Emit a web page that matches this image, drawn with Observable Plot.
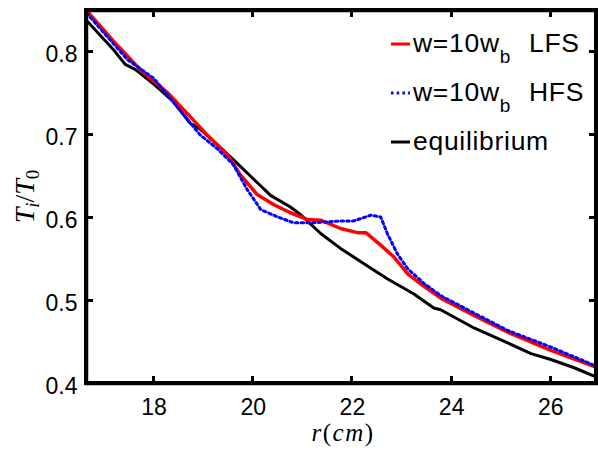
<!DOCTYPE html>
<html>
<head>
<meta charset="utf-8">
<script src="https://cdn.jsdelivr.net/npm/d3@7"></script>
<script src="https://cdn.jsdelivr.net/npm/@observablehq/plot@0.6"></script>
<style>
  body { margin: 0; background: #fff; }
  #wrap { position: relative; width: 598px; height: 455px; overflow: hidden; }
  #chart, #over, #deco { position: absolute; left: 0; top: 0; }
  #over { pointer-events: none; z-index: 2; }
  #deco { width: 598px; height: 455px; pointer-events: none; z-index: 3; }
  .edge, .tk { position: absolute; background: #000; }
</style>
</head>
<body>
<div id="wrap"><div id="chart"></div><svg id="over" width="598" height="455"></svg><div id="deco"></div></div>
<script>
// ---- data ----
const rEq = [16.64, 17.18, 17.42, 17.62, 18.02, 18.39, 18.73, 18.93, 19.28, 19.6, 20.0, 20.35, 20.75, 20.95, 21.36, 21.76, 22.17, 22.71, 23.24, 23.64, 23.78, 24.45, 25.13, 25.6, 26.0, 26.47, 26.95];
const tEq = [0.838, 0.803, 0.785, 0.779, 0.760, 0.740, 0.714, 0.707, 0.688, 0.670, 0.647, 0.627, 0.613, 0.604, 0.581, 0.563, 0.547, 0.526, 0.508, 0.491, 0.489, 0.467, 0.449, 0.436, 0.429, 0.419, 0.407];

const rLfs = [16.64, 17.26, 17.72, 18.27, 18.73, 19.07, 19.48, 19.74, 20.08, 20.41, 20.75, 21.09, 21.36, 21.76, 22.1, 22.27, 22.57, 22.83, 23.12, 23.38, 23.78, 24.45, 25.13, 26.0, 26.95];
const tLfs = [0.850, 0.808, 0.779, 0.751, 0.722, 0.700, 0.676, 0.652, 0.628, 0.616, 0.606, 0.598, 0.597, 0.587, 0.582, 0.582, 0.567, 0.553, 0.532, 0.520, 0.503, 0.482, 0.462, 0.440, 0.419];

const rHfs = [16.64, 17.46, 18.0, 18.93, 19.28, 19.6, 19.88, 20.15, 20.49, 20.81, 21.22, 21.76, 22.02, 22.37, 22.57, 22.71, 22.91, 23.12, 23.44, 23.78, 24.45, 25.13, 26.0, 26.95];
const tHfs = [0.847, 0.791, 0.768, 0.700, 0.683, 0.664, 0.634, 0.610, 0.601, 0.594, 0.594, 0.596, 0.596, 0.603, 0.601, 0.580, 0.556, 0.538, 0.521, 0.506, 0.485, 0.464, 0.444, 0.420];

const xTicks = [18, 20, 22, 24, 26];
const yTicks = [0.4, 0.5, 0.6, 0.7, 0.8];

const eq = rEq.map((r, i) => ({r, t: tEq[i]}));
const lfs = rLfs.map((r, i) => ({r, t: tLfs[i]}));
const hfs = rHfs.map((r, i) => ({r, t: tHfs[i]}));

const W = 598, H = 455, ML = 86, MR = 2, MT = 10, MB = 72;
const plotW = W - ML - MR, plotH = H - MT - MB;
const tickLen = 7;

const chart = Plot.plot({
  width: W, height: H,
  marginLeft: ML, marginRight: MR, marginTop: MT, marginBottom: MB,
  style: { fontFamily: "'Liberation Sans', Arial, Helvetica, sans-serif", background: "#fff", color: "#000" },
  x: { domain: [16.64, 26.92] },
  y: { domain: [0.4, 0.85] },
  marks: [
    Plot.line(eq, { x: "r", y: "t", stroke: "#000", strokeWidth: 3, clip: true }),
    Plot.line(lfs, { x: "r", y: "t", stroke: "#ff0000", strokeWidth: 3.5, clip: true }),
    Plot.line(hfs, { x: "r", y: "t", stroke: "#0000ff", strokeWidth: 3, strokeDasharray: "2.5,3.2", clip: true }),
    Plot.frame({ stroke: "#000", strokeWidth: 3.5 }),
    Plot.axisX(xTicks, { tickSize: 0, tickPadding: 15, fontSize: 23, label: null }),
    Plot.axisY(yTicks, { tickSize: 0, tickPadding: 9, fontSize: 23, label: null, dy: 3, tickFormat: d3.format(".1f") })
  ]
});

document.getElementById("chart").appendChild(chart);

const xs = chart.scale("x"), ys = chart.scale("y");
const x0 = ML, x1 = W - MR, y0 = MT, y1 = H - MB;

// ---- frame and inward ticks as plain boxes, placed through Plot's scales ----
const deco = d3.select("#deco");
const fw = 3.5;
function box(l, t, w, h) {
  deco.append("div").attr("class", "edge")
    .style("left", l + "px").style("top", t + "px")
    .style("width", w + "px").style("height", h + "px");
}
box(x0 - fw / 2, y0 - fw / 2, x1 - x0 + fw, fw);   // top
box(x0 - fw / 2, y1 - fw / 2, x1 - x0 + fw, fw);   // bottom
box(x0 - fw / 2, y0 - fw / 2, fw, y1 - y0 + fw);   // left
box(x1 - fw / 2, y0 - fw / 2, fw, y1 - y0 + fw);   // right
xTicks.forEach(v => {
  const px = xs.apply(v);
  box(px - 1.5, y1 - tickLen, 3, tickLen);
  box(px - 1.5, y0, 3, tickLen);
});
yTicks.forEach(v => {
  const py = ys.apply(v);
  box(x0, py - 1.5, tickLen, 3);
  box(x1 - tickLen, py - 1.5, tickLen, 3);
});

// ---- titles and legend as real text, in an overlay svg ----
const over = d3.select("#over");
const serif = "'Liberation Serif', 'DejaVu Serif', 'Times New Roman', serif";
const sans = "'Liberation Sans', Arial, Helvetica, sans-serif";

// x title r(cm)
const xt = over.append("text")
  .attr("x", ML + plotW / 2 + 2).attr("y", 441)
  .attr("text-anchor", "middle").attr("letter-spacing", 1.5)
  .attr("font-family", serif).attr("font-size", 25).attr("fill", "#000");
xt.append("tspan").attr("font-style", "italic").text("r");
xt.append("tspan").text("(");
xt.append("tspan").attr("font-style", "italic").text("cm");
xt.append("tspan").text(")");

// y title T_i/T_0
const yt = over.append("text")
  .attr("transform", `translate(34,${MT + plotH / 2}) rotate(-90)`)
  .attr("text-anchor", "middle")
  .attr("font-family", serif).attr("font-size", 28).attr("fill", "#000");
yt.append("tspan").attr("font-style", "italic").text("T");
yt.append("tspan").attr("font-style", "italic").attr("font-size", 19).attr("dy", 5).text("i");
yt.append("tspan").attr("dy", -5).text("/");
yt.append("tspan").attr("font-style", "italic").text("T");
yt.append("tspan").attr("font-size", 19).attr("dy", 5).text("0");

// legend
const legendLabels = [
  { main: "w=10w", sub: "b", tail: "LFS", color: "#ff0000", dash: null, y: 44 },
  { main: "w=10w", sub: "b", tail: "HFS", color: "#0000ff", dash: "2.5,3.2", y: 93 },
  { main: "equilibrium", sub: null, tail: null, color: "#000", dash: null, y: 142 }
];
legendLabels.forEach(e => {
  const ln = over.append("line")
    .attr("x1", 391).attr("x2", 410).attr("y1", e.y).attr("y2", e.y)
    .attr("stroke", e.color).attr("stroke-width", 3);
  if (e.dash) ln.attr("stroke-dasharray", e.dash);
  const t = over.append("text")
    .attr("x", 413).attr("y", e.y + 8)
    .attr("text-anchor", "start").attr("letter-spacing", 0.7)
    .attr("font-family", sans)
    .attr("font-size", 26.5).attr("fill", "#000");
  t.append("tspan").text(e.main);
  if (e.sub) {
    t.append("tspan").attr("font-size", 19).attr("dy", 11).text(e.sub);
    t.append("tspan").attr("dy", -11).attr("dx", 18).text(e.tail);
  }
});
</script>
</body>
</html>
